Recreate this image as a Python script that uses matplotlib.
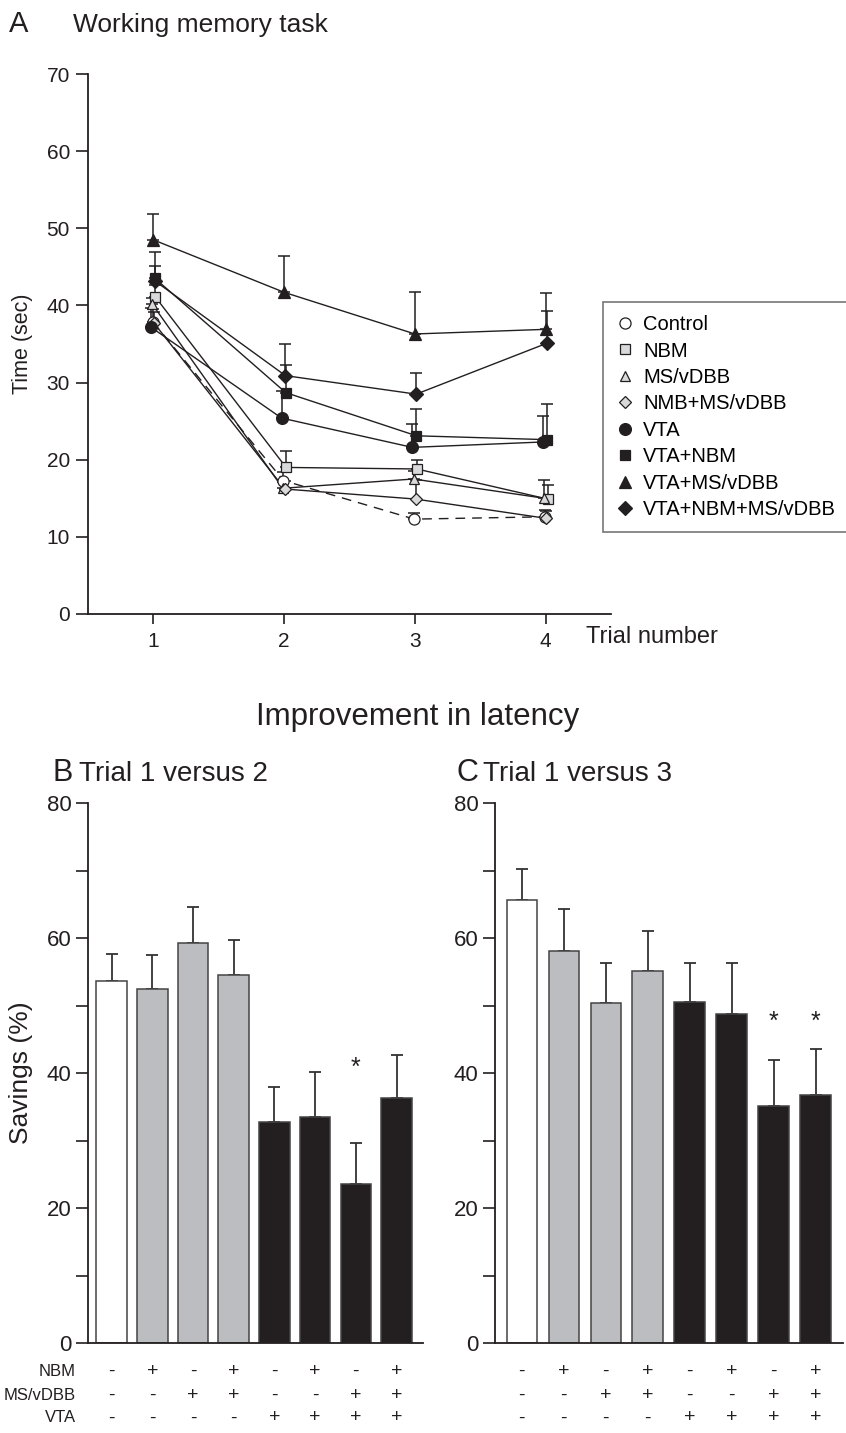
import matplotlib
matplotlib.use("Agg")
import matplotlib.pyplot as plt
from matplotlib import font_manager
from matplotlib.lines import Line2D
from matplotlib.ticker import MultipleLocator
import matplotlib.transforms as mtransforms

# ---------------- data ----------------
trials = [1, 2, 3, 4]
group_names = ["Control", "NBM", "MS/vDBB", "NMB+MS/vDBB", "VTA",
               "VTA+NBM", "VTA+MS/vDBB", "VTA+NBM+MS/vDBB"]

control_mean = [37.9, 17.3, 12.3, 12.6]
control_sem = [1.7, 1.1, 0.8, 0.9]
nbm_mean = [41.1, 19.0, 18.8, 14.9]
nbm_sem = [1.5, 2.1, 1.2, 1.8]
ms_mean = [40.2, 16.3, 17.5, 15.0]
ms_sem = [0.7, 0.8, 1.0, 2.4]
nmb_ms_mean = [37.7, 16.2, 14.9, 12.4]
nmb_ms_sem = [1.5, 1.0, 2.5, 0.9]
vta_mean = [37.2, 25.4, 21.6, 22.3]
vta_sem = [2.5, 3.5, 3.0, 3.4]
vta_nbm_mean = [43.5, 28.7, 23.1, 22.6]
vta_nbm_sem = [3.4, 3.6, 3.5, 4.6]
vta_ms_mean = [48.5, 41.7, 36.3, 36.9]
vta_ms_sem = [3.3, 4.7, 5.4, 4.7]
vta_nbm_ms_mean = [43.2, 30.9, 28.5, 35.1]
vta_nbm_ms_sem = [1.9, 4.1, 2.8, 4.2]

savings_12 = [53.6, 52.5, 59.2, 54.5, 32.8, 33.5, 23.6, 36.3]
savings_12_sem = [4.1, 5.0, 5.4, 5.2, 5.1, 6.7, 6.1, 6.3]
savings_13 = [65.7, 58.1, 50.4, 55.1, 50.5, 48.7, 35.1, 36.8]
savings_13_sem = [4.5, 6.2, 5.9, 5.9, 5.8, 7.6, 6.9, 6.8]
sig_12 = [False, False, False, False, False, False, True, False]
sig_13 = [False, False, False, False, False, False, True, True]

row_labels = ["NBM", "MS/vDBB", "VTA"]
nbm_flags = ["-", "+", "-", "+", "-", "+", "-", "+"]
ms_flags = ["-", "-", "+", "+", "-", "-", "+", "+"]
vta_flags = ["-", "-", "-", "-", "+", "+", "+", "+"]

# ---------------- styles ----------------
names = {f.name for f in font_manager.fontManager.ttflist}
REG = "Liberation Sans"
NARROW = "Liberation Sans Narrow" if "Liberation Sans Narrow" in names else "Liberation Sans"
plt.rcParams["font.family"] = [REG, "DejaVu Sans"]

INK = "#231f20"
LGRAY = "#d8d9db"
BGRAY = "#bcbdc0"
BLACK = "#231f20"

W, H = 846, 1433
fig = plt.figure(figsize=(W / 100, H / 100), dpi=100)


def fx(px):
    return px / W


def fy(py):
    return 1 - py / H


# ---------------- panel A ----------------
axA = fig.add_axes([fx(88), fy(614), fx(611 - 88), (614 - 74) / H])
series = [
    (control_mean, control_sem, "o", "white", "--", 8.0, -0.005),
    (nbm_mean, nbm_sem, "s", LGRAY, "-", 7.0, 0.015),
    (ms_mean, ms_sem, "^", LGRAY, "-", 7.5, -0.01),
    (nmb_ms_mean, nmb_ms_sem, "D", LGRAY, "-", 6.5, 0.005),
    (vta_mean, vta_sem, "o", BLACK, "-", 8.5, -0.02),
    (vta_nbm_mean, vta_nbm_sem, "s", BLACK, "-", 7.5, 0.012),
    (vta_ms_mean, vta_ms_sem, "^", BLACK, "-", 8.0, 0.0),
    (vta_nbm_ms_mean, vta_nbm_ms_sem, "D", BLACK, "-", 7.0, 0.01),
]
handles = []
for (m, s, mk, fc, ls, ms, dx), name in zip(series, group_names):
    xs = [t + dx for t in trials]
    axA.errorbar(xs, m, yerr=[[0] * len(s), s], fmt="none", ecolor=INK,
                 elinewidth=1.1, capsize=4, capthick=1.1, zorder=2)
    line_kw = dict(dashes=(7, 5)) if ls == "--" else {}
    axA.plot(xs, m, color=INK, lw=1.0, zorder=3, **line_kw)
    axA.plot(xs, m, linestyle="none", marker=mk, ms=ms, mfc=fc, mec=INK,
             mew=0.9, zorder=4)
    handles.append(Line2D([], [], linestyle="none", marker=mk, ms=ms * 1.0,
                          mfc=fc, mec=INK, mew=0.9, label=name))

axA.set_xlim(0.5, 4.5)
axA.set_ylim(0, 70)
axA.set_xticks(trials)
axA.set_yticks(range(0, 71, 10))
axA.tick_params(axis="both", direction="out", length=9, width=1.2,
                colors=INK, labelsize=15, pad=4)
axA.tick_params(axis="x", length=7, pad=6)
for sp in ["top", "right"]:
    axA.spines[sp].set_visible(False)
for sp in ["left", "bottom"]:
    axA.spines[sp].set_color(INK)
    axA.spines[sp].set_linewidth(1.3)
axA.set_ylabel("Time (sec)", fontsize=15.5, color=INK, labelpad=10)

fig.text(fx(9), fy(24), "A", fontsize=21, color=INK, ha="left", va="center")
fig.text(fx(73), fy(25), "Working memory task", fontsize=19, color=INK,
         ha="left", va="center")
fig.text(fx(586), fy(637), "Trial number", fontsize=17, color=INK,
         ha="left", va="center")

leg = fig.legend(handles=handles, loc="upper left",
                 bbox_to_anchor=(fx(603), fy(302)), frameon=True,
                 fontsize=14.5, handlelength=0.9, handletextpad=0.45,
                 labelspacing=0.37, borderpad=0.65, borderaxespad=0.0,
                 fancybox=False)
leg.get_frame().set_edgecolor("#555555")
leg.get_frame().set_linewidth(1.2)

# ---------------- panels B & C ----------------
fig.text(fx(418), fy(717), "Improvement in latency", fontsize=22.5,
         family=NARROW, color=INK, ha="center", va="center")


def bar_panel(left_px, right_px, xlim, vals, sems, sigs, star_y, letter,
              title, letter_x, width):
    ax = fig.add_axes([fx(left_px), fy(1343), fx(right_px - left_px),
                       (1343 - 803) / H])
    xs = list(range(len(vals)))
    colors = ["white", BGRAY, BGRAY, BGRAY, BLACK, BLACK, BLACK, BLACK]
    ax.errorbar(xs, vals, yerr=[[0] * len(sems), sems], fmt="none",
                ecolor="#333333", elinewidth=1.3, capsize=4, capthick=1.3,
                zorder=1)
    ax.bar(xs, vals, width=width, color=colors, edgecolor="#444444",
           linewidth=1.1, zorder=2)
    for x, sig in zip(xs, sigs):
        if sig:
            ax.text(x, star_y, "*", fontsize=18, ha="center", va="center",
                    color=INK)
    ax.set_xlim(*xlim)
    ax.set_ylim(0, 80)
    ax.set_xticks([])
    ax.yaxis.set_major_locator(MultipleLocator(20))
    ax.yaxis.set_minor_locator(MultipleLocator(10))
    ax.tick_params(axis="y", which="both", direction="out", length=9,
                   width=1.2, colors=INK, labelsize=16, pad=3)
    for lab in ax.get_yticklabels():
        lab.set_family(NARROW)
    for sp in ["top", "right"]:
        ax.spines[sp].set_visible(False)
    for sp in ["left", "bottom"]:
        ax.spines[sp].set_color(INK)
        ax.spines[sp].set_linewidth(1.3)
    fig.text(fx(letter_x), fy(773), letter, fontsize=22, family=NARROW,
             color=INK, ha="left", va="center")
    fig.text(fx(letter_x + 27), fy(774), title, fontsize=20, family=NARROW,
             color=INK, ha="left", va="center")
    trans = mtransforms.blended_transform_factory(ax.transData, fig.transFigure)
    for flags, ypx in zip([nbm_flags, ms_flags, vta_flags], [1371, 1395, 1418]):
        for x, f in zip(xs, flags):
            ax.text(x, fy(ypx), f, transform=trans, fontsize=14,
                    family=NARROW, ha="center", va="center", color=INK,
                    clip_on=False)
    return ax


axB = bar_panel(88, 423, (-0.58, 7.65), savings_12, savings_12_sem, sig_12,
                40.8, "B", "Trial 1 versus 2", 52, 0.75)
axB.set_ylabel("Savings (%)", fontsize=19, family=NARROW, color=INK,
               labelpad=10)
axC = bar_panel(495, 843, (-0.64, 7.65), savings_13, savings_13_sem, sig_13,
                47.6, "C", "Trial 1 versus 3", 456, 0.73)

for lab, ypx in zip(row_labels, [1371, 1395, 1418]):
    fig.text(fx(76), fy(ypx), lab, fontsize=12, family=NARROW, color=INK,
             ha="right", va="center")

fig.savefig("out.png", dpi=100)
